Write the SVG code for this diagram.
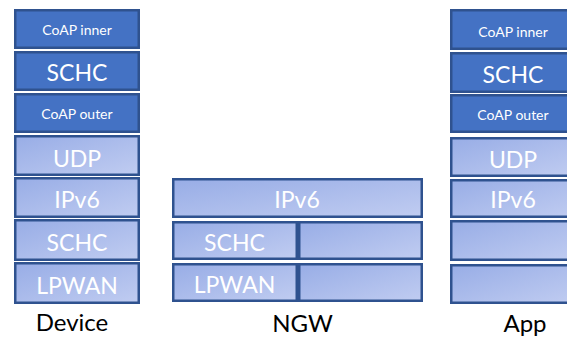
<svg xmlns="http://www.w3.org/2000/svg" width="567" height="337" viewBox="0 0 567 337">
<defs>
<linearGradient id="lg" x1="0" y1="0" x2="1" y2="1">
<stop offset="0" stop-color="#98ADE6"/>
<stop offset="1" stop-color="#C0CCF1"/>
</linearGradient>
</defs>
<style>
.top{fill:#4472C4;stroke:#2F528F;stroke-width:2.5}
.low{fill:url(#lg);stroke:#2F528F;stroke-width:2.5}
text{font-family:Lato,"Open Sans",sans-serif;fill:#fff;text-anchor:middle}
.s{font-size:14px}
.b{font-size:23px}
.lab{font-size:24px;fill:#000}
</style>
<rect width="567" height="337" fill="#fff"/>
<g id="device">
<rect class="top" x="15.25" y="10.25" width="123.5" height="37.5"/>
<text class="s" x="77" y="35">CoAP inner</text>
<rect class="top" x="15.25" y="52.25" width="123.5" height="37.5"/>
<text class="b" x="77" y="81">SCHC</text>
<rect class="top" x="15.25" y="94.25" width="123.5" height="37.5"/>
<text class="s" x="77" y="119">CoAP outer</text>
<rect class="low" x="15.25" y="136.25" width="123.5" height="38.5"/>
<text class="b" x="77" y="166.5">UDP</text>
<rect class="low" x="15.25" y="178.25" width="123.5" height="38.5"/>
<text class="b" x="77" y="208">IPv6</text>
<rect class="low" x="15.25" y="220.25" width="123.5" height="39.5"/>
<text class="b" x="77" y="251">SCHC</text>
<rect class="low" x="15.25" y="263.25" width="123.5" height="39.5"/>
<text class="b" x="77" y="294">LPWAN</text>
<text class="lab" x="72" y="331">Device</text>
</g>
<g id="ngw">
<rect class="low" x="173.25" y="179.25" width="248.5" height="37.5"/>
<text class="b" x="297" y="208">IPv6</text>
<rect class="low" x="173.25" y="222.25" width="123.5" height="36.5"/>
<text class="b" x="234.5" y="251">SCHC</text>
<rect class="low" x="299.25" y="222.25" width="122.5" height="36.5"/>
<rect class="low" x="173.25" y="264.25" width="123.5" height="36.5"/>
<text class="b" x="234.5" y="293">LPWAN</text>
<rect class="low" x="299.25" y="264.25" width="122.5" height="36.5"/>
<text class="lab" x="302.5" y="332">NGW</text>
</g>
<g id="app">
<rect class="top" x="451.25" y="10.25" width="123.5" height="38.5"/>
<text class="s" x="513" y="36.5">CoAP inner</text>
<rect class="top" x="451.25" y="53.25" width="123.5" height="38.5"/>
<text class="b" x="513" y="83">SCHC</text>
<rect class="top" x="451.25" y="95.25" width="123.5" height="36.5"/>
<text class="s" x="513" y="120">CoAP outer</text>
<rect class="low" x="451.25" y="138.25" width="123.5" height="37.5"/>
<text class="b" x="513" y="168">UDP</text>
<rect class="low" x="451.25" y="180.25" width="123.5" height="36.5"/>
<text class="b" x="513" y="208">IPv6</text>
<rect class="low" x="451.25" y="221.25" width="123.5" height="38.5"/>
<rect class="low" x="451.25" y="265.25" width="123.5" height="37.5"/>
<text class="lab" x="525" y="332">App</text>
</g>
<g id="connectors"/>
</svg>
